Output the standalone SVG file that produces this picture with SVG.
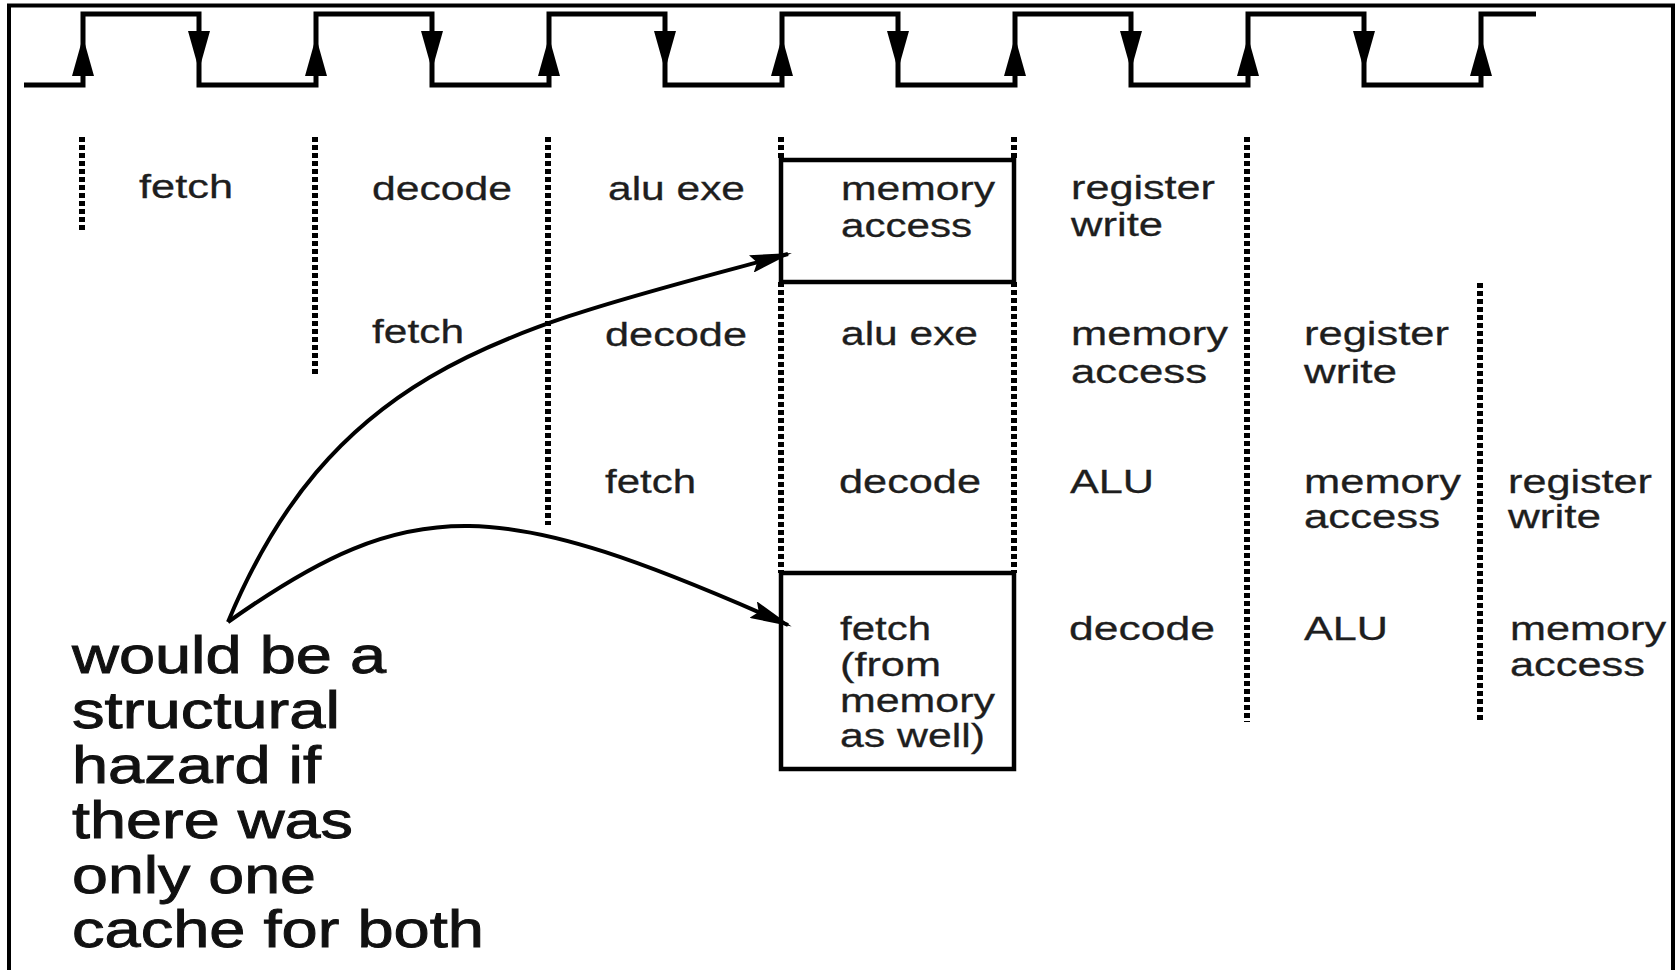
<svg xmlns="http://www.w3.org/2000/svg" width="1680" height="970" viewBox="0 0 1680 970">
<style>
.frame{stroke:#000;stroke-width:4;fill:none}
.clk{stroke:#000;stroke-width:5;fill:none;stroke-linejoin:miter}
.ah{fill:#000}
.dot{stroke:#000;stroke-width:6;stroke-dasharray:5 3;fill:none}
.box{stroke:#000;stroke-width:4.5;fill:none}
.t{font-family:"Liberation Sans",Arial,sans-serif;font-size:34px;fill:#1e1e1e;stroke:#1e1e1e;stroke-width:0.3}
.big{font-family:"Liberation Sans",Arial,sans-serif;font-size:52px;fill:#111;stroke:#111;stroke-width:0.9}
.conn{stroke:#000;stroke-width:4;fill:none}
</style>
<defs>
<marker id="arr" markerUnits="userSpaceOnUse" markerWidth="42" markerHeight="18" viewBox="0 0 42 18" refX="38" refY="9" orient="auto">
<path d="M0,0 L42,9 L0,18 L6,9 z" fill="#000"/>
</marker>
</defs>
<rect width="1680" height="970" fill="#fff"/>
<g id="frame">
<path class="frame" d="M9,975 V5.5 H1673 V975"/>
</g>
<g id="clock">
<path class="clk" d="M24,85 H83 V14 H199 V85 H316 V14 H432 V85 H549 V14 H665 V85 H782 V14 H898 V85 H1015 V14 H1131 V85 H1248 V14 H1364 V85 H1481 V14 H1536"/>
<g class="ah">
<polygon points="83,37 72,76 94,76"/>
<polygon points="316,37 305,76 327,76"/>
<polygon points="549,37 538,76 560,76"/>
<polygon points="782,37 771,76 793,76"/>
<polygon points="1015,37 1004,76 1026,76"/>
<polygon points="1248,37 1237,76 1259,76"/>
<polygon points="1481,37 1470,76 1492,76"/>
<polygon points="188,31 210,31 199,70"/>
<polygon points="421,31 443,31 432,70"/>
<polygon points="654,31 676,31 665,70"/>
<polygon points="887,31 909,31 898,70"/>
<polygon points="1120,31 1142,31 1131,70"/>
<polygon points="1353,31 1375,31 1364,70"/>
</g>
</g>
<g id="dividers">
<line class="dot" x1="82" y1="137" x2="82" y2="233"/>
<line class="dot" x1="315" y1="137" x2="315" y2="377"/>
<line class="dot" x1="548" y1="137" x2="548" y2="525"/>
<line class="dot" x1="781" y1="137" x2="781" y2="160"/>
<line class="dot" x1="781" y1="282" x2="781" y2="573"/>
<line class="dot" x1="1014" y1="137" x2="1014" y2="160"/>
<line class="dot" x1="1014" y1="282" x2="1014" y2="573"/>
<line class="dot" x1="1247" y1="137" x2="1247" y2="722"/>
<line class="dot" x1="1480" y1="283" x2="1480" y2="722"/>
</g>
<g id="instr1">
<text class="t" x="139" y="198" textLength="94" lengthAdjust="spacingAndGlyphs">fetch</text>
<text class="t" x="372" y="200" textLength="140" lengthAdjust="spacingAndGlyphs">decode</text>
<text class="t" x="608" y="200" textLength="137" lengthAdjust="spacingAndGlyphs">alu exe</text>
<text class="t" x="1071" y="199" textLength="144" lengthAdjust="spacingAndGlyphs">register</text>
<text class="t" x="1071" y="236" textLength="92" lengthAdjust="spacingAndGlyphs">write</text>
</g>
<g id="mem-box">
<rect class="box" x="781" y="160" width="233" height="122"/>
<text class="t" x="841" y="200" textLength="154" lengthAdjust="spacingAndGlyphs">memory</text>
<text class="t" x="841" y="237" textLength="131" lengthAdjust="spacingAndGlyphs">access</text>
</g>
<g id="instr2">
<text class="t" x="372" y="343" textLength="92" lengthAdjust="spacingAndGlyphs">fetch</text>
<text class="t" x="605" y="346" textLength="142" lengthAdjust="spacingAndGlyphs">decode</text>
<text class="t" x="841" y="345" textLength="137" lengthAdjust="spacingAndGlyphs">alu exe</text>
<text class="t" x="1071" y="345" textLength="157" lengthAdjust="spacingAndGlyphs">memory</text>
<text class="t" x="1071" y="383" textLength="136" lengthAdjust="spacingAndGlyphs">access</text>
<text class="t" x="1304" y="345" textLength="145" lengthAdjust="spacingAndGlyphs">register</text>
<text class="t" x="1304" y="383" textLength="93" lengthAdjust="spacingAndGlyphs">write</text>
</g>
<g id="instr3">
<text class="t" x="605" y="493" textLength="91" lengthAdjust="spacingAndGlyphs">fetch</text>
<text class="t" x="839" y="493" textLength="142" lengthAdjust="spacingAndGlyphs">decode</text>
<text class="t" x="1070" y="493" textLength="84" lengthAdjust="spacingAndGlyphs">ALU</text>
<text class="t" x="1304" y="493" textLength="157" lengthAdjust="spacingAndGlyphs">memory</text>
<text class="t" x="1304" y="528" textLength="136" lengthAdjust="spacingAndGlyphs">access</text>
<text class="t" x="1508" y="493" textLength="144" lengthAdjust="spacingAndGlyphs">register</text>
<text class="t" x="1508" y="528" textLength="93" lengthAdjust="spacingAndGlyphs">write</text>
</g>
<g id="fetch-box">
<rect class="box" x="781" y="573" width="233" height="196"/>
<text class="t" x="840" y="640" textLength="91" lengthAdjust="spacingAndGlyphs">fetch</text>
<text class="t" x="840" y="676" textLength="101" lengthAdjust="spacingAndGlyphs">(from</text>
<text class="t" x="840" y="712" textLength="155" lengthAdjust="spacingAndGlyphs">memory</text>
<text class="t" x="840" y="747" textLength="145" lengthAdjust="spacingAndGlyphs">as well)</text>
</g>
<g id="instr4">
<text class="t" x="1069" y="640" textLength="146" lengthAdjust="spacingAndGlyphs">decode</text>
<text class="t" x="1304" y="640" textLength="84" lengthAdjust="spacingAndGlyphs">ALU</text>
<text class="t" x="1510" y="640" textLength="156" lengthAdjust="spacingAndGlyphs">memory</text>
<text class="t" x="1510" y="676" textLength="135" lengthAdjust="spacingAndGlyphs">access</text>
</g>
<g id="note">
<text class="big" x="72" y="673" textLength="314" lengthAdjust="spacingAndGlyphs">would be a</text>
<text class="big" x="72" y="728" textLength="268" lengthAdjust="spacingAndGlyphs">structural</text>
<text class="big" x="72" y="783" textLength="249" lengthAdjust="spacingAndGlyphs">hazard if</text>
<text class="big" x="72" y="838" textLength="281" lengthAdjust="spacingAndGlyphs">there was</text>
<text class="big" x="72" y="893" textLength="244" lengthAdjust="spacingAndGlyphs">only one</text>
<text class="big" x="72" y="947" textLength="412" lengthAdjust="spacingAndGlyphs">cache for both</text>
</g>
<g id="connectors">
<path class="conn" d="M228,622 C337,360 516,328 788,254" marker-end="url(#arr)"/>
<path class="conn" d="M228,622 C414,490 499,497 788,625" marker-end="url(#arr)"/>
</g>
</svg>
